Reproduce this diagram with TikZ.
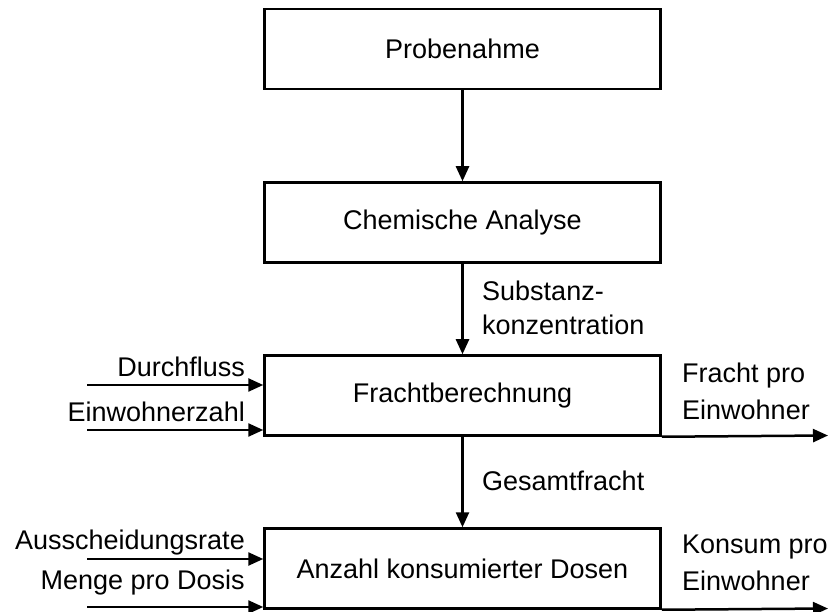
\documentclass[tikz,border=0pt]{standalone}
\usepackage{fontspec}
\setmainfont{Liberation Sans}
\usetikzlibrary{arrows.meta}
\begin{document}
\begin{tikzpicture}[x=1pt,y=-1pt,
  font=\fontsize{27}{37}\selectfont,
  procbox/.style={draw, line width=2.5pt, minimum width=396pt, minimum height=80pt, inner sep=0pt},
  lbl/.style={inner sep=0pt},
  flow/.style={line width=2.5pt, -{Triangle[length=15pt,width=13pt]}}]
\useasboundingbox (0,0) rectangle (828,612);
\node[procbox] (p) at (462.5,49) {Probenahme};
\node[procbox] (c) at (462.5,222.5) {Chemische Analyse};
\node[procbox] (f) at (462.5,395.5) {Frachtberechnung};
\node[procbox] (a) at (462.5,568.5) {Anzahl konsumierter Dosen};
\draw[flow] (p) -- (c);
\draw[flow] (c) -- (f);
\draw[flow] (f) -- (a);
\node[lbl, anchor=west, align=left, font=\fontsize{27}{34}\selectfont] (subst) at (482,308) {Substanz-\\konzentration};
\node[lbl, anchor=west] (ges) at (482,481) {Gesamtfracht};
% inputs
\coordinate (i1) at (87,385);
\coordinate (i2) at (87,430);
\coordinate (i3) at (87,559);
\coordinate (i4) at (87,607);
\draw[flow] (i1) -- (f.west |- i1);
\draw[flow] (i2) -- (f.west |- i2);
\draw[flow] (i3) -- (a.west |- i3);
\draw[flow] (i4) -- (a.west |- i4);
\node[lbl, anchor=east] (durch) at (245,367) {Durchfluss};
\node[lbl, anchor=east] (einw) at (245,412) {Einwohnerzahl};
\node[lbl, anchor=east] (aus) at (245,543) {Ausscheidungsrate};
\node[lbl, anchor=east] (menge) at (245,583) {Menge pro Dosis};
% outputs
\coordinate (o1) at (828,435.5);
\coordinate (o2) at (828,608.5);
\draw[flow] (f.south east) -- (o1);
\draw[flow] (a.south east) -- (o2);
\node[lbl, anchor=west, align=left] (fpe) at (682,391) {Fracht pro\\Einwohner};
\node[lbl, anchor=west, align=left] (kpe) at (682,563) {Konsum pro\\Einwohner};
\end{tikzpicture}
\end{document}
